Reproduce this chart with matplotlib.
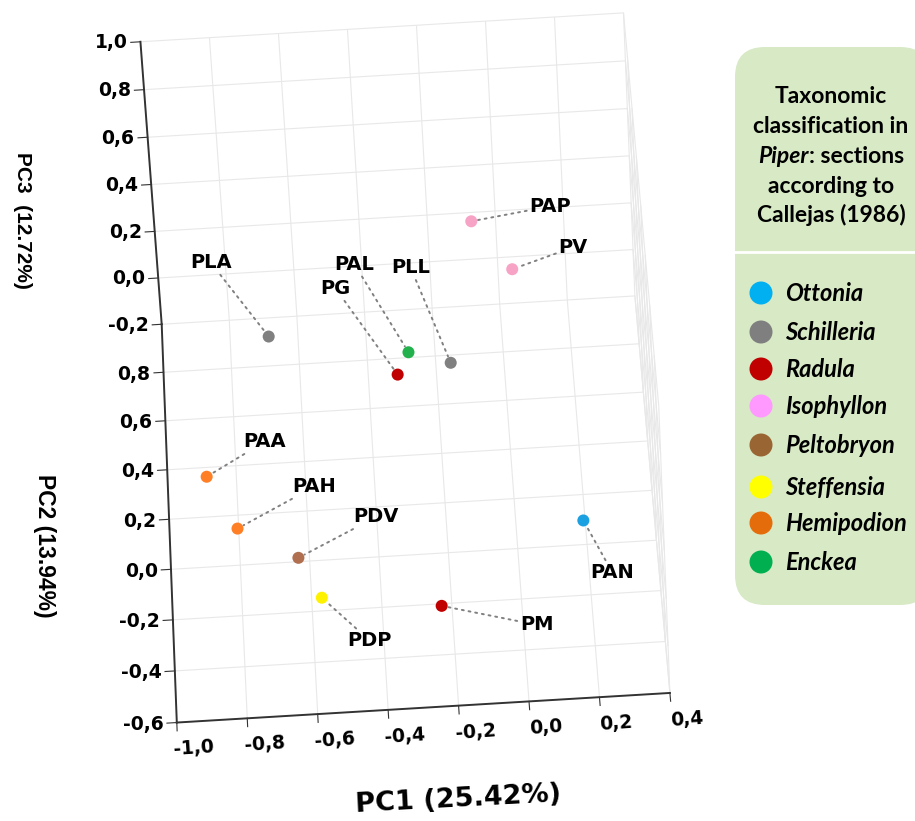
import numpy as np
import matplotlib.pyplot as plt
from matplotlib.patches import FancyBboxPatch, Ellipse
from mpl_toolkits.mplot3d import proj3d

plt.rcParams['font.family'] = ['Liberation Sans', 'DejaVu Sans']

# accessions and their PCA scores
names = ["PLA", "PAL", "PLL", "PG", "PAP", "PV", "PAA", "PAH", "PDV", "PDP", "PM", "PAN"]
pc1 = [-0.68, -0.28, -0.16, -0.315, -0.077, 0.033, -0.88, -0.80, -0.63, -0.57, -0.23, 0.19]
pc2 = [0.44, 0.39, 0.385, 0.35, 0.57, 0.51, 0.08, -0.04, -0.17, -0.24, -0.30, -0.09]
pc3 = [0.30, 0.25, 0.20, 0.20, 0.60, 0.45, 0.10, 0.00, 0.00, -0.10, -0.10, 0.00]
section = ["Schilleria", "Enckea", "Schilleria", "Radula", "Isophyllon", "Isophyllon",
           "Hemipodion", "Hemipodion", "Peltobryon", "Steffensia", "Radula", "Ottonia"]

sections = ["Ottonia", "Schilleria", "Radula", "Isophyllon",
            "Peltobryon", "Steffensia", "Hemipodion", "Enckea"]
legend_colors = ["#00B0F0", "#7F7F7F", "#C00000", "#FF99FF",
                 "#996633", "#FFFF00", "#E46C0A", "#00B050"]
point_colors = {"Ottonia": "#1BA1E2", "Schilleria": "#808080", "Radula": "#C00000",
                "Isophyllon": "#F7A3C6", "Peltobryon": "#B07050", "Steffensia": "#FFF200",
                "Hemipodion": "#FF7F27", "Enckea": "#22B14C"}

x_ticks = [-1.0, -0.8, -0.6, -0.4, -0.2, 0.0, 0.2, 0.4]
y_ticks = [-0.6, -0.4, -0.2, 0.0, 0.2, 0.4, 0.6, 0.8]
z_ticks = [-0.2, 0.0, 0.2, 0.4, 0.6, 0.8, 1.0]

# label offsets from the point, in pixels
label_offsets = {"PLA": (-58, 74), "PAL": (-54, 88), "PLL": (-40, 95), "PG": (-62, 86),
                 "PAP": (79, 15), "PV": (61, 22), "PAA": (58, 35), "PAH": (77, 42),
                 "PDV": (78, 41), "PDP": (48, -43), "PM": (95, -19), "PAN": (29, -52)}


def fmt(v):
    return f"{v:.1f}".replace(".", ",")


W, H = 915, 821
fig = plt.figure(figsize=(W / 100, H / 100), dpi=100)

S = 700
cx, cy = 393, 373.5
ax = fig.add_axes([(cx - S / 2) / W, (H - cy - S / 2) / H, S / W, S / H], projection='3d')
ax.set_proj_type('persp', focal_length=3.0)
ax.view_init(elev=40, azim=-90.2, roll=3.3)
ax.set_box_aspect((1, 1.262, 0.761), zoom=1.2075)
ax.set_xlim(-1.0, 0.4)
ax.set_ylim(-0.6, 1.0)
ax.set_zlim(-0.2, 1.0)

for axis in (ax.xaxis, ax.yaxis, ax.zaxis):
    axis.set_pane_color((1, 1, 1, 0))
    axis.pane.set_edgecolor('#e2e2e2')
    axis._axinfo['grid'].update(color='#e8e8e8', linewidth=0.8)
    axis._axinfo['tick'].update(inward_factor=0.25, outward_factor=0.0)
    axis.line.set_color('#333333')
    axis.line.set_linewidth(1.4)

ax.set_xticks(x_ticks)
ax.set_yticks(y_ticks)
ax.set_zticks(z_ticks)
ax.set_xticklabels([])
ax.set_yticklabels([])
ax.set_zticklabels([])
ax.tick_params(colors='#333333')

cols = [point_colors[s] for s in section]
ax.scatter(pc1, pc2, pc3, c=cols, s=75, depthshade=False, edgecolors='none', alpha=1)

M = ax.get_proj()

# tick labels placed next to the projected tick positions
tick_font = dict(fontsize=13.5, fontweight='bold', family='DejaVu Sans', annotation_clip=False)
for v in x_ticks:
    tx, ty, _ = proj3d.proj_transform(v, -0.6, -0.2, M)
    ax.annotate(fmt(v), xy=(tx, ty), xytext=(17, -26), textcoords='offset pixels',
                ha='center', va='center', rotation=4, **tick_font)
for v in y_ticks:
    tx, ty, _ = proj3d.proj_transform(-1.0, v, -0.2, M)
    ax.annotate(fmt(v), xy=(tx, ty), xytext=(-13, -2), textcoords='offset pixels',
                ha='right', va='center', **tick_font)
for v in z_ticks:
    tx, ty, _ = proj3d.proj_transform(-1.0, 1.0, v, M)
    ax.annotate(fmt(v), xy=(tx, ty), xytext=(-13, -1), textcoords='offset pixels',
                ha='right', va='center', **tick_font)

px, py, _ = proj3d.proj_transform(np.array(pc1), np.array(pc2), np.array(pc3), M)
for i, name in enumerate(names):
    ax.annotate(name, xy=(px[i], py[i]), xytext=label_offsets[name],
                textcoords='offset pixels', ha='center', va='center',
                fontsize=14, fontweight='bold', family='DejaVu Sans',
                arrowprops=dict(arrowstyle='-', linestyle=(0, (1, 2.5)), color='#808080',
                                lw=1.4, shrinkA=0, shrinkB=5))

# axis titles
fig.text(458 / W, 1 - 800 / H, "PC1 (25.42%)", fontsize=19.5, fontweight='bold',
         family='DejaVu Sans', rotation=3, ha='center', va='center')
fig.text(22 / W, 1 - 220 / H, "PC3  (12.72%)", fontsize=15, fontweight='bold',
         rotation=-90, ha='center', va='center')
fig.text(44 / W, 1 - 546 / H, "PC2 (13.94%)", fontsize=16.5, fontweight='bold',
         rotation=-90, ha='center', va='center')

# legend panel, drawn in the picture's pixel coordinates
lax = fig.add_axes([735 / W, (H - 615) / H, 180 / W, 575 / H])
lax.set_xlim(735, 915)
lax.set_ylim(615, 40)
lax.axis('off')
lax.add_patch(FancyBboxPatch((735, 47), 195, 558, boxstyle='round,pad=0,rounding_size=30',
                             fc='#D7E9C5', ec='none', clip_on=False))
lax.plot([735, 915], [252, 252], color='white', lw=2, clip_on=False)

lfont = ['Lato', 'DejaVu Sans']
hx = 831
for txt, yy in [("Taxonomic", 96), ("classification in", 126),
                ("according to", 186), ("Callejas (1986)", 215)]:
    lax.text(hx, yy, txt, fontsize=16.5, fontweight='bold', family=lfont,
             ha='center', va='center')
r = fig.canvas.get_renderer()
t1 = lax.text(0, 156, "Piper", fontsize=16.5, fontweight='bold', style='italic',
              family=lfont, ha='left', va='center')
t2 = lax.text(0, 156, ": sections", fontsize=16.5, fontweight='bold',
              family=lfont, ha='left', va='center')
w1 = t1.get_window_extent(r).width
w2 = t2.get_window_extent(r).width
t1.set_x(hx - (w1 + w2) / 2)
t2.set_x(hx - (w1 + w2) / 2 + w1)

entry_y = [293, 332, 369, 406, 445, 487, 523, 562]
for name, col, yy in zip(sections, legend_colors, entry_y):
    lax.add_patch(Ellipse((761, yy), 23, 23, fc=col, ec='none'))
    lax.text(785, yy, name, fontsize=17, fontweight='bold', style='italic',
             family=lfont, ha='left', va='center')

fig.savefig("out.png", dpi=100)
